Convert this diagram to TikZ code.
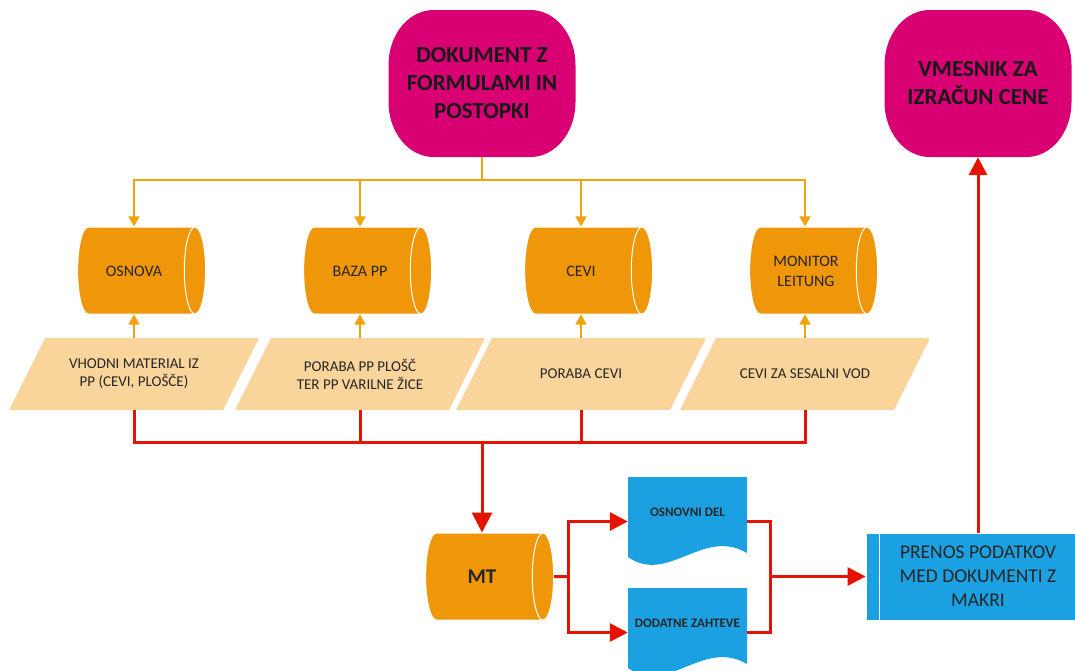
\documentclass[tikz,border=0pt]{standalone}
\usepackage{fontspec}
\setmainfont{Carlito}
\usetikzlibrary{shapes.geometric,arrows.meta}

\definecolor{termcol}{HTML}{D80073}
\definecolor{cylcol}{HTML}{F09609}
\definecolor{paracol}{HTML}{FAD59B}
\definecolor{doccol}{HTML}{1BA1E2}
\definecolor{redcol}{HTML}{E51400}
\definecolor{linecol}{HTML}{F0A30A}
\definecolor{txtcol}{HTML}{262626}

\tikzset{
    term/.style={rectangle, minimum width=187pt, minimum height=147pt, align=center,
        text=black!90, font=\fontsize{23}{28}\selectfont\bfseries,
        path picture={\fill[termcol] ([yshift=-55pt]path picture bounding box.north west)
            arc[start angle=180, end angle=90, x radius=45pt, y radius=55pt]
            -- ([xshift=-45pt]path picture bounding box.north east)
            arc[start angle=90, end angle=0, x radius=45pt, y radius=55pt]
            -- ([yshift=55pt]path picture bounding box.south east)
            arc[start angle=0, end angle=-90, x radius=45pt, y radius=55pt]
            -- ([xshift=45pt]path picture bounding box.south west)
            arc[start angle=270, end angle=180, x radius=45pt, y radius=55pt] -- cycle;}},
    cyl/.style={cylinder, aspect=0.5, draw=white, line width=1pt,
        cylinder uses custom fill, cylinder body fill=cylcol, cylinder end fill=cylcol,
        minimum width=87pt, minimum height=128pt, align=center, text=txtcol,
        text height=23.5pt, text depth=12.5pt, font=\fontsize{16}{20}\selectfont},
    para/.style={rectangle, minimum width=250pt, minimum height=72pt, align=center,
        text=txtcol, font=\fontsize{15}{18}\selectfont,
        path picture={\fill[paracol] ([xshift=36pt]path picture bounding box.north west)
            -- (path picture bounding box.north east)
            -- ([xshift=-36pt]path picture bounding box.south east)
            -- (path picture bounding box.south west) -- cycle;}},
    doc/.style={rectangle, minimum width=119pt, minimum height=89pt, text depth=19pt,
        align=center, text=black!85, font=\fontsize{13}{16}\selectfont\bfseries,
        path picture={\fill[doccol] ([yshift=13pt]path picture bounding box.south east)
            -- (path picture bounding box.north east) -- (path picture bounding box.north west)
            -- ([yshift=9pt]path picture bounding box.south west)
            .. controls ([xshift=40pt,yshift=-19pt]path picture bounding box.south west)
            and ([xshift=-44pt,yshift=39pt]path picture bounding box.south east)
            .. ([yshift=13pt]path picture bounding box.south east) -- cycle;}},
    proc/.style={rectangle, fill=doccol, draw=white, line width=0.8pt,
        minimum width=224pt, minimum height=87pt, align=center, text=black!85,
        font=\fontsize{19.5}{24}\selectfont},
    oline/.style={linecol, line width=1.3pt},
    oarrow/.style={oline, -{Triangle[length=10pt,width=11pt]}},
    rline/.style={redcol, line width=3pt},
    rarrow/.style={rline, -{Triangle[length=18pt,width=18pt]}},
}

\begin{document}
\begin{tikzpicture}[x=1pt, y=-1pt]
    \useasboundingbox (0,0) rectangle (1075,670);
    % start and end
    \node[term] (dok) at (482,83.5) {DOKUMENT Z\\FORMULAMI IN\\POSTOPKI};
    \node[term] (vmes) at (978,83.5) {VMESNIK ZA\\IZRAČUN CENE};
    % data stores
    \begin{scope}[every node/.style={cyl}]
        \node (osn) at (134,270.5) {OSNOVA};
        \node (baza) at (360,270.5) {BAZA PP};
        \node (cevi) at (581,270.5) {CEVI};
        \node[text height=33.5pt, text depth=2.5pt] (mon) at (806,270.5) {MONITOR\\LEITUNG};
        \node[font=\fontsize{21}{24}\selectfont\bfseries, text height=25pt, text depth=11pt] (mt) at (482,576.5) {MT};
    \end{scope}
    % inputs
    \begin{scope}[every node/.style={para}]
        \node (p1) at (134,374) {VHODNI MATERIAL IZ\\PP (CEVI, PLOŠČE)};
        \node (p2) at (360,374) {PORABA PP PLOŠČ\\TER PP VARILNE ŽICE};
        \node (p3) at (581,374) {PORABA CEVI};
        \node (p4) at (805,374) {CEVI ZA SESALNI VOD};
    \end{scope}
    % documents
    \node[doc] (d1) at (687.5,521.5) {OSNOVNI DEL};
    \node[doc] (d2) at (687.5,632.5) {DODATNE ZAHTEVE};
    \node[proc] (pren) at (978,576.5) {PRENOS PODATKOV\\MED DOKUMENTI Z\\MAKRI};
    \draw[white, line width=1pt] ([xshift=14pt]pren.north west) -- ([xshift=14pt]pren.south west);

    \coordinate (obus) at (482,180);
    \coordinate (rbus) at (482,442);
    \coordinate (mfork) at (568,576.5);
    \coordinate (djoin) at (770,576.5);

    % orange connectors
    \draw[oline] (dok) -- (obus);
    \draw[oarrow] (obus) -| (osn.north -| p1.center);
    \draw[oarrow] (obus) -| (baza.north -| p2.center);
    \draw[oarrow] (obus) -| (cevi.north -| p3.center);
    \draw[oarrow] (obus) -| (mon.north -| p4.center);
    \draw[oarrow] (p1) -- (osn.south -| p1.center);
    \draw[oarrow] (p2) -- (baza.south -| p2.center);
    \draw[oarrow] (p3) -- (cevi.south -| p3.center);
    \draw[oarrow] (p4) -- (mon.south -| p4.center);

    % red connectors
    \draw[rline] (p1) |- (rbus);
    \draw[rline] (p2) |- (rbus);
    \draw[rline] (p3) |- (rbus);
    \draw[rline] (p4) |- (rbus);
    \draw[rline, -{Triangle[length=20pt,width=20pt]}] (rbus) -- (rbus |- mt.north);
    \draw[rline] (mt.east) -- (mfork);
    \draw[rarrow] (mfork) |- (d1.west);
    \draw[rarrow] (mfork) |- (d2.west);
    \draw[rline] (d1.east) -| (djoin);
    \draw[rline] (d2.east) -| (djoin);
    \draw[rarrow] (djoin) -- (pren.west);
    \draw[rarrow] (pren.north) -- (vmes.south);
\end{tikzpicture}
\end{document}
